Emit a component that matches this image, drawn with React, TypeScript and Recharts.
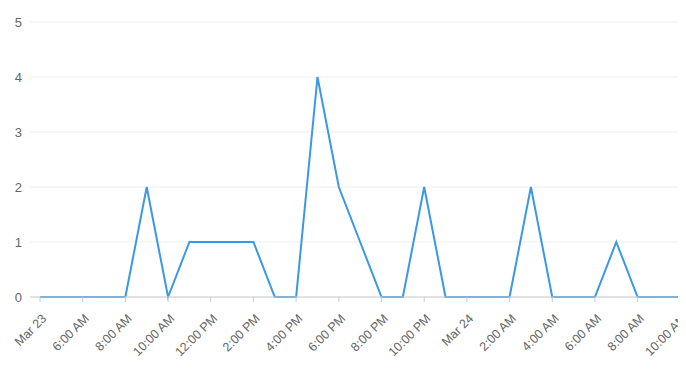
import { LineChart, Line, XAxis, YAxis, CartesianGrid } from "recharts";

// hourly buckets, starting 4 AM Mar 23
const hours = [
  "Mar 23", "5:00 AM", "6:00 AM", "7:00 AM", "8:00 AM", "9:00 AM", "10:00 AM", "11:00 AM",
  "12:00 PM", "1:00 PM", "2:00 PM", "3:00 PM", "4:00 PM", "5:00 PM", "6:00 PM", "7:00 PM",
  "8:00 PM", "9:00 PM", "10:00 PM", "11:00 PM", "Mar 24", "1:00 AM", "2:00 AM", "3:00 AM",
  "4:00 AM", "5:00 AM", "6:00 AM", "7:00 AM", "8:00 AM", "9:00 AM", "10:00 AM", "11:00 AM",
  "12:00 PM",
];

const counts = [
  0, 0, 0, 0, 0, 2, 0, 1,
  1, 1, 1, 0, 0, 4, 2, 1,
  0, 0, 2, 0, 0, 0, 0, 2,
  0, 0, 0, 1, 0, 0, 0, 0,
  0,
];

const yTicks = [0, 1, 2, 3, 4, 5];

const data = hours.map((h, i) => ({ key: i, label: h, value: counts[i] }));

const font = "Arial, 'Liberation Sans', sans-serif";

export default function App() {
  return (
    <div style={{ width: 678, height: 361, overflow: "hidden", fontFamily: font }}>
      <LineChart
        width={730}
        height={361}
        data={data}
        margin={{ top: 14, right: 5, left: 0, bottom: 0 }}
      >
        <CartesianGrid vertical={false} stroke="#eeeeee" />
        <XAxis
          dataKey="key"
          tickFormatter={(i: number) => hours[i]}
          interval={1}
          height={72}
          padding={{ left: 10, right: 10 }}
          stroke="#cccccc"
          tickSize={5}
          tickMargin={11}
          angle={-45}
          textAnchor="end"
          tick={{ fill: "#666666", fontSize: 12.5, fontFamily: font, dx: 1 }}
        />
        <YAxis
          width={22}
          domain={[0, 5]}
          ticks={yTicks}
          axisLine={false}
          tickLine={false}
          tick={{ fill: "#666666", fontSize: 13, fontFamily: font }}
        />
        <Line
          type="linear"
          dataKey="value"
          stroke="#3b98e6"
          strokeWidth={2}
          dot={false}
          isAnimationActive={false}
        />
      </LineChart>
    </div>
  );
}
